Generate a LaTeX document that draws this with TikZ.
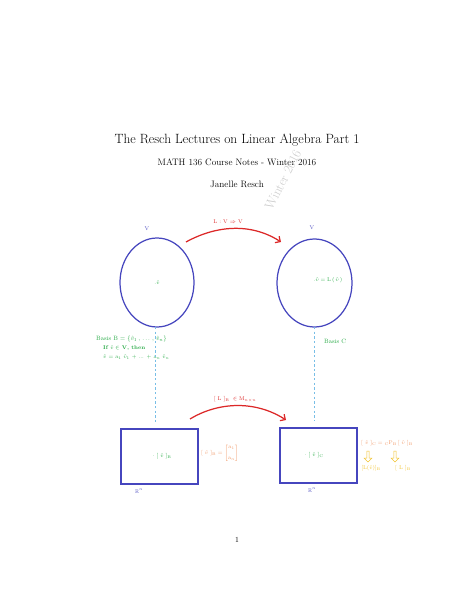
\documentclass[tikz,border=0pt]{standalone}
\usepackage{amsmath,amssymb}
\usetikzlibrary{shapes.arrows,arrows.meta}
\definecolor{cblue}{RGB}{70,70,190}
\definecolor{cred}{RGB}{220,40,40}
\definecolor{cgreen}{RGB}{40,170,70}
\definecolor{corange}{RGB}{240,150,100}
\definecolor{cyellow}{RGB}{240,195,50}
\definecolor{cdash}{RGB}{120,190,230}
\tikzset{
  blob/.style={draw=cblue,line width=1.6pt},
  frame/.style={draw=cblue,line width=1.5pt},
  maparrow/.style={draw=cred,line width=1.6pt,-{Straight Barb[length=5pt]}},
  guide/.style={draw=cdash,dashed,line width=0.7pt},
  gtext/.style={text=cgreen,font=\scriptsize,inner sep=0pt},
  btext/.style={text=cblue,font=\scriptsize,inner sep=0pt},
  rtext/.style={text=cred,font=\scriptsize,inner sep=0pt},
  otext/.style={text=corange,font=\scriptsize,inner sep=0pt},
  ytext/.style={text=cyellow,font=\scriptsize,inner sep=0pt},
  hollowdown/.style={single arrow,draw=cyellow,line width=0.6pt,shape border rotate=270,minimum height=14pt,minimum width=10pt,single arrow head extend=2pt,inner sep=0.5pt}
}
\begin{document}
\begin{tikzpicture}[x=1.2911pt,y=-1.2911pt]
\useasboundingbox (0,0) rectangle (474,613);
% header
\node (title) at (237,140) {\LARGE The Resch Lectures on Linear Algebra Part 1};
\node (sub) at (237,162) {\large MATH 136 Course Notes - Winter 2016};
\node (auth) at (237,184) {\large Janelle Resch};
\node[text=black!20,rotate=63,font=\fontsize{17}{18}\selectfont] (wm) at (283,180) {Winter 2016};
% ellipses
\draw[blob] (157,282.5) ellipse [x radius=37, y radius=44.5];
\coordinate (lbot) at (155,327);
\draw[blob] (314.5,283) ellipse [x radius=37.5, y radius=44];
\coordinate (rbot) at (314,327);
\node[btext] (vl) at (147,229) {V};
\node[btext] (vr) at (312,228) {V};
\node[gtext] (pv) at (157,283) {$.\hat{v}$};
\node[gtext] (pw) at (328,280) {$.\hat{v} = \mathrm{L}\,(\,\hat{v}\,)$};
% top map
\coordinate (a1) at (186,242);
\coordinate (a2) at (281,242);
\draw[maparrow] (a1) .. controls (215,226) and (250,222) .. (a2);
\node[rtext] (lmap) at (228,222) {L : V $\Rightarrow$ V};
% bases
\node[gtext,anchor=west,font=\footnotesize] (bb) at (96,339) {Basis B = $\{\hat{v}_1 \,,\, \ldots \,,\, \hat{v}_n\}$};
\node[gtext,anchor=west,font=\scriptsize\bfseries] (if) at (103,348.5) {If $\hat{v} \in$ V, then};
\node[gtext,anchor=west,font=\scriptsize] (lin) at (103,357) {$\hat{v}$ = a$_1$ $\hat{v}_1$ + ... + a$_n$ $\hat{v}_n$};
\node[gtext,anchor=west,font=\footnotesize] (bc) at (324,341) {Basis C};
\coordinate (ltop) at (155,423);
\coordinate (rtop) at (314,421);
\draw[guide] (lbot) -- (ltop);
\draw[guide] (rbot) -- (rtop);
% bottom map
\coordinate (b1) at (190,419);
\coordinate (b2) at (286,420);
\draw[maparrow] (b1) .. controls (218,402) and (255,400) .. (b2);
\node[rtext] (lmat) at (235,399) {$[\text{ L }]_{\text{B}}\ \in \mathrm{M}_{n\times n}$};
% rectangles
\draw[frame] (121,429) rectangle (198,484);
\draw[frame] (280,428) rectangle (357,483);
\node[gtext] (cb) at (162,456) {$\cdot\ [\ \hat{v}\ ]_{\text{B}}$};
\node[gtext] (cc) at (314,455) {$\cdot\ [\ \hat{v}\ ]_{\text{C}}$};
\node[btext] (rl) at (139,491) {$\mathbb{R}^n$};
\node[btext] (rr) at (312,490) {$\mathbb{R}^n$};
% coordinate vector
\node[otext,anchor=west] (coordB) at (201,453) {$[\ \hat{v}\ ]_{\text{B}} = \begin{bmatrix} \text{a}_1\\[6pt] \text{a}_n\end{bmatrix}$};
\node[otext,anchor=west] (chg) at (361,443) {$[\ \hat{v}\ ]_{\text{C}} = {}_{\text{C}}\text{P}_{\text{B}}\,[\ \hat{v}\ ]_{\text{B}}$};
\node[hollowdown] (d1) at (368,456) {};
\node[hollowdown] (d2) at (395,456) {};
\node[ytext] (lv) at (371,468) {[L($\hat{v}$)]$_{\text{B}}$};
\node[ytext] (lb) at (403,468) {$[\text{ L }]_{\text{B}}$};
% page number
\node (pg) at (237,540) {1};
\end{tikzpicture}
\end{document}
